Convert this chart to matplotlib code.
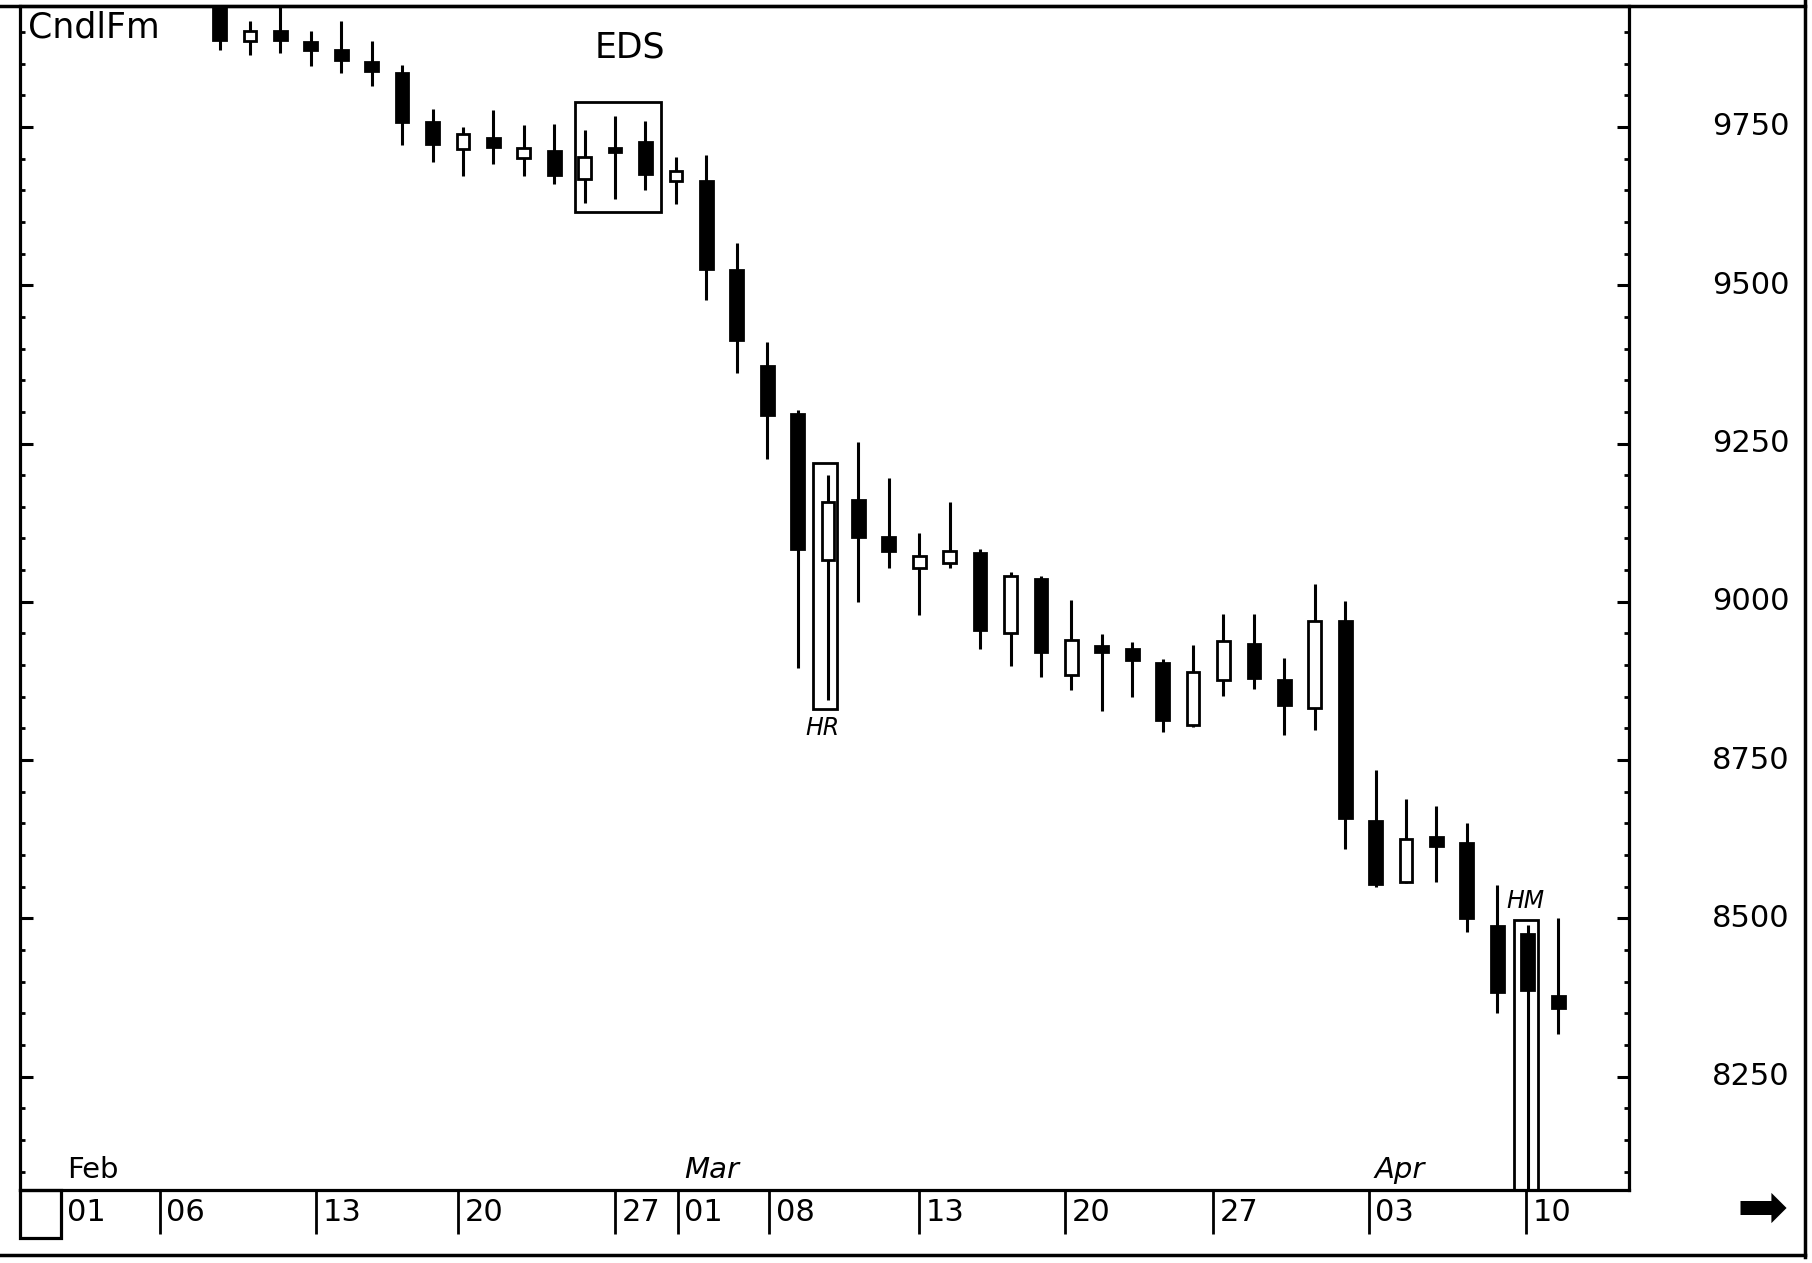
import numpy as np
import matplotlib
matplotlib.use("Agg")
import matplotlib.pyplot as plt
from matplotlib.patches import Rectangle
from matplotlib.lines import Line2D
from matplotlib.ticker import MultipleLocator
import matplotlib.transforms as mtransforms

# ---------------- data ----------------
opens  = [9945, 9886, 9902, 9884, 9872, 9852, 9835, 9758, 9715, 9733,
          9701, 9712, 9668, 9716, 9726, 9664, 9665, 9524, 9372, 9296,
          9066, 9160, 9102, 9054, 9062, 9077, 8950, 9036, 8885, 8930,
          8926, 8904, 8806, 8876, 8934, 8876, 8833, 8970, 8654, 8557,
          8628, 8619, 8488, 8476, 8378]
highs  = [9965, 9918, 9939, 9902, 9918, 9886, 9848, 9779, 9750, 9777,
          9753, 9755, 9745, 9768, 9760, 9703, 9705, 9567, 9411, 9303,
          9200, 9253, 9195, 9108, 9157, 9083, 9047, 9040, 9003, 8949,
          8937, 8910, 8932, 8981, 8981, 8912, 9028, 9001, 8735, 8689,
          8678, 8650, 8552, 8490, 8500]
lows   = [9872, 9864, 9867, 9846, 9835, 9814, 9721, 9694, 9673, 9691,
          9673, 9660, 9630, 9636, 9650, 9628, 9476, 9362, 9226, 8895,
          8845, 9000, 9053, 8979, 9053, 8926, 8899, 8882, 8860, 8828,
          8849, 8794, 8802, 8851, 8862, 8790, 8797, 8610, 8549, 8556,
          8558, 8478, 8350, 7950, 8317]
closes = [9888, 9902, 9888, 9872, 9856, 9838, 9758, 9723, 9739, 9719,
          9717, 9674, 9702, 9710, 9675, 9680, 9526, 9413, 9295, 9084,
          9157, 9103, 9080, 9072, 9080, 8955, 9040, 8920, 8940, 8920,
          8908, 8813, 8889, 8938, 8880, 8837, 8970, 8659, 8554, 8625,
          8614, 8501, 8383, 8387, 8358]

day_labels = ["01", "06", "13", "20", "27", "01", "08", "13", "20", "27", "03", "10"]
month_labels = ["Feb", "Mar", "Apr"]
price_ticks = [8250, 8500, 8750, 9000, 9250, 9500, 9750]
title_text = "CndlFm"
pattern_labels = ["EDS", "HR", "HM"]
pattern_candles = [[12, 13, 14], [20], [43]]

# ---------------- layout ----------------
W, H = 1812, 1263
fig = plt.figure(figsize=(W / 100, H / 100), dpi=100)
fig.patch.set_facecolor("white")

ax_l, ax_r, ax_t, ax_b = 20, 1629, 6, 1190
ax = fig.add_axes([ax_l / W, 1 - ax_b / H, (ax_r - ax_l) / W, (ax_b - ax_t) / H])
ax.set_xlim(-6.56, 46.33)
ax.set_ylim(8071, 9941)
for sp in ax.spines.values():
    sp.set_linewidth(2.3)
    sp.set_color("black")

# tick positions (in candle-index units) for the day labels
tick_pos = [-5.22, -1.97, 3.17, 7.84, 13.0, 15.07, 18.07, 23.0, 27.8, 32.66, 37.77, 42.95]
month_tick_idx = [0, 5, 10]

# ---------------- candles ----------------
o = np.array(opens, float)
h = np.array(highs, float)
l = np.array(lows, float)
c = np.array(closes, float)
x = np.arange(len(o))
fill = ["black" if cc < oo else "white" for oo, cc in zip(o, c)]

ax.vlines(x, l, h, color="black", lw=2.2, zorder=2)
ax.bar(x, np.abs(c - o), width=0.42, bottom=np.minimum(o, c), color=fill,
       edgecolor="black", linewidth=2.0, zorder=3)

# ---------------- pattern boxes ----------------
# EDS
idx = pattern_candles[0]
y0 = min(l[i] for i in idx) - 15
y1 = max(h[i] for i in idx) + 22
ax.add_patch(Rectangle((idx[0] - 0.30, y0), idx[-1] - idx[0] + 0.80, y1 - y0,
                       fill=False, lw=2.0, ec="black", zorder=4))
ax.text(13.49, 9875, pattern_labels[0], ha="center", va="center", fontsize=25,
        family="DejaVu Sans")
# HR
i = pattern_candles[1][0]
ax.add_patch(Rectangle((i - 0.50, l[i] - 15), 0.80, h[i] - l[i] + 35,
                       fill=False, lw=2.0, ec="black", zorder=4))
ax.text(i - 0.17, 8801, pattern_labels[1], ha="center", va="center", fontsize=17,
        style="italic", family="DejaVu Sans")
# HM
i = pattern_candles[2][0]
ax.add_patch(Rectangle((i - 0.45, 7800), 0.80, h[i] + 8 - 7800,
                       fill=False, lw=2.0, ec="black", zorder=4))
ax.text(i - 0.07, 8528, pattern_labels[2], ha="center", va="center", fontsize=17,
        style="italic", family="DejaVu Sans")

# ---------------- y axis ----------------
ax.yaxis.set_major_locator(MultipleLocator(250))
ax.yaxis.set_minor_locator(MultipleLocator(50))
ax.tick_params(axis="y", which="major", direction="in", length=9, width=2.2,
               left=True, right=True, labelleft=False, labelright=False)
ax.tick_params(axis="y", which="minor", direction="in", length=3.5, width=2.0,
               left=True, right=True)
ytr = mtransforms.blended_transform_factory(fig.transFigure, ax.transData)
for v in price_ticks:
    ax.text(1790 / W, v, f"{v}", transform=ytr, ha="right", va="center",
            fontsize=22, family="DejaVu Sans", clip_on=False)

# ---------------- x axis ----------------
ax.set_xticks(tick_pos)
ax.set_xticklabels([])
ax.tick_params(axis="x", which="major", direction="out", length=32, width=2.0,
               bottom=True, top=False)
for p, lab in zip(tick_pos, day_labels):
    ax.annotate(lab, xy=(p, 0), xycoords=("data", "axes fraction"),
                xytext=(4.5, -16), textcoords="offset points",
                ha="left", va="center", fontsize=22, family="DejaVu Sans",
                annotation_clip=False)
for k, lab in zip(month_tick_idx, month_labels):
    ax.annotate(lab, xy=(tick_pos[k], 0), xycoords=("data", "axes fraction"),
                xytext=(4.5, 4), textcoords="offset points",
                ha="left", va="bottom", fontsize=21, family="DejaVu Sans",
                style="normal" if lab == "Feb" else "italic",
                annotation_clip=False)

# title at top-left
fig.text(28 / W, 1 - 10 / H, title_text, ha="left", va="top", fontsize=25,
         family="DejaVu Sans")

# ---------------- frame decorations ----------------
btr = mtransforms.blended_transform_factory(ax.transData, fig.transFigure)
x_left = ax.get_xlim()[0]
fig.add_artist(Rectangle((x_left, 1 - 1238 / H), tick_pos[0] - x_left, (1238 - 1190) / H,
                         transform=btr, fill=False, lw=2.3, ec="black"))
fig.add_artist(Line2D([0, 1805 / W], [1 - 6 / H, 1 - 6 / H], color="black", lw=2.5,
                      transform=fig.transFigure))
fig.add_artist(Line2D([1805 / W, 1805 / W], [1 - 1257 / H, 1], color="black", lw=2.5,
                      transform=fig.transFigure))
fig.add_artist(Line2D([0, 1805 / W], [1 - 1255 / H, 1 - 1255 / H], color="black", lw=2.5,
                      transform=fig.transFigure))
fig.text(1762 / W, 1 - 1210 / H, "\u27A1", ha="center", va="center", fontsize=44,
         family="DejaVu Sans")

fig.savefig("out.png", dpi=100, facecolor="white")
